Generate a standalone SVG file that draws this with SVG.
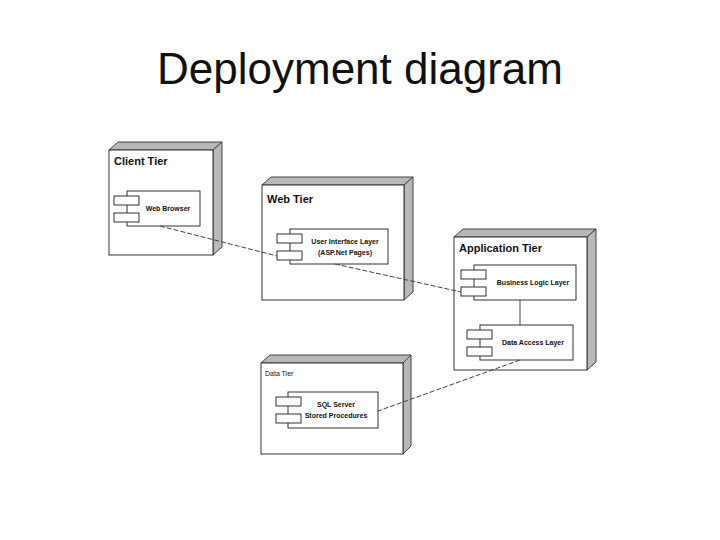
<svg xmlns="http://www.w3.org/2000/svg" width="720" height="540" viewBox="0 0 720 540">
<style>
.f{fill:#fff;stroke:#333;stroke-width:1}
.s{fill:#b8b8b8;stroke:#444;stroke-width:1}
.c{fill:#fff;stroke:#333;stroke-width:1}
.t{font-family:"Liberation Sans",Arial,sans-serif;fill:#111}
.h{font-size:11px;font-weight:bold}
.l{font-size:7px;font-weight:bold}
.d{stroke:#444;stroke-width:1;stroke-dasharray:5,2;fill:none}
</style>
<rect width="720" height="540" fill="#fff"/>
<text x="360" y="84" text-anchor="middle" class="t" font-size="44">Deployment diagram</text>
<g id="client">
<polygon class="s" points="109,150 118,142 222,142 213,150"/>
<polygon class="s" points="213,150 222,142 222,247 213,255"/>
<rect class="f" x="109" y="150" width="104" height="105"/>
<text x="114" y="165" class="t h">Client Tier</text>
<rect class="c" x="127" y="191" width="73" height="35"/>
<rect class="c" x="114" y="196" width="25" height="9"/>
<rect class="c" x="114" y="213" width="25" height="9"/>
<text x="168" y="211" text-anchor="middle" class="t l">Web Browser</text>
</g>
<g id="web">
<polygon class="s" points="262,185 271,177 413,177 404,185"/>
<polygon class="s" points="404,185 413,177 413,292 404,300"/>
<rect class="f" x="262" y="185" width="142" height="115"/>
<text x="267" y="203" class="t h">Web Tier</text>
<rect class="c" x="290" y="229" width="98" height="35"/>
<rect class="c" x="277" y="234" width="25" height="9"/>
<rect class="c" x="277" y="251" width="25" height="9"/>
<text x="345" y="244" text-anchor="middle" class="t l">User Interface Layer</text>
<text x="345" y="255" text-anchor="middle" class="t l">(ASP.Net Pages)</text>
</g>
<g id="app">
<polygon class="s" points="454,237 463,229 596,229 587,237"/>
<polygon class="s" points="587,237 596,229 596,362 587,370"/>
<rect class="f" x="454" y="237" width="133" height="133"/>
<text x="459" y="252" class="t h">Application Tier</text>
<rect class="c" x="474" y="265" width="102" height="35"/>
<rect class="c" x="461" y="270" width="25" height="9"/>
<rect class="c" x="461" y="287" width="25" height="9"/>
<text x="533" y="285" text-anchor="middle" class="t l">Business Logic Layer</text>
<rect class="c" x="480" y="325" width="93" height="35"/>
<rect class="c" x="467" y="330" width="25" height="9"/>
<rect class="c" x="467" y="347" width="25" height="9"/>
<text x="533" y="345" text-anchor="middle" class="t l">Data Access Layer</text>
</g>
<g id="data">
<polygon class="s" points="261,363 270,355 411,355 403,363"/>
<polygon class="s" points="403,363 411,355 411,446 403,454"/>
<rect class="f" x="261" y="363" width="142" height="91"/>
<text x="265" y="376" class="t" font-size="7">Data Tier</text>
<rect class="c" x="288" y="392" width="90" height="36"/>
<rect class="c" x="276" y="397" width="25" height="9"/>
<rect class="c" x="276" y="414" width="25" height="9"/>
<text x="336" y="407" text-anchor="middle" class="t l">SQL Server</text>
<text x="336" y="418" text-anchor="middle" class="t l">Stored Procedures</text>
</g>
<g id="connectors">
<line class="d" x1="160" y1="226" x2="277" y2="256"/>
<line class="d" x1="335" y1="264" x2="461" y2="292"/>
<line x1="520" y1="300" x2="520" y2="325" stroke="#444" stroke-width="1"/>
<line class="d" x1="520" y1="360" x2="378" y2="411"/>
</g>
</svg>
